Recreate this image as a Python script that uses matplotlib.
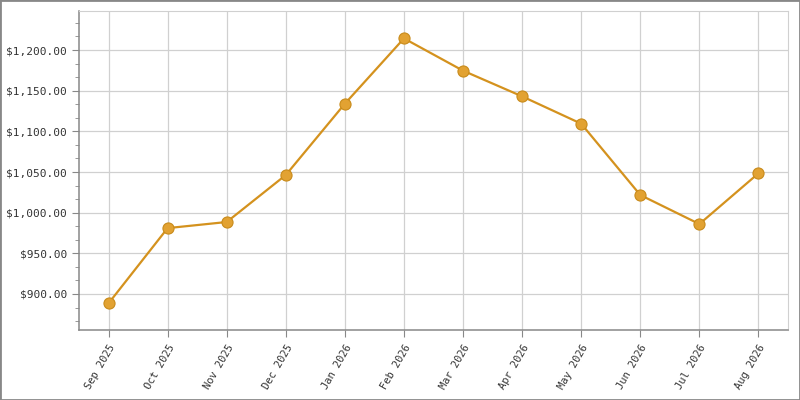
import matplotlib.pyplot as plt
from matplotlib.ticker import FuncFormatter, MultipleLocator
from matplotlib.patches import Rectangle

# Monthly values
months = ['Sep 2025', 'Oct 2025', 'Nov 2025', 'Dec 2025', 'Jan 2026', 'Feb 2026',
          'Mar 2026', 'Apr 2026', 'May 2026', 'Jun 2026', 'Jul 2026', 'Aug 2026']
values = [888.5, 981, 988.5, 1046.3, 1134, 1214.3,
          1174.6, 1143, 1109.4, 1021.7, 986, 1048.4]

plt.rcParams['font.family'] = ['DejaVu Sans Mono']

fig = plt.figure(figsize=(8, 4), dpi=100)
ax = fig.add_axes([79 / 800, 70 / 400, 709 / 800, 319 / 400])

x = list(range(len(months)))
ax.plot(x, values, color='#D4921E', linewidth=1.6, marker='o', markersize=8,
        markerfacecolor='#E2A232', markeredgecolor='#C98B1B', markeredgewidth=0.8, zorder=3)

ax.set_xlim(-0.5, len(months) - 0.5)
ax.set_ylim(855.7, 1248)
ax.set_xticks(x)
ax.set_xticklabels(months, rotation=60, ha='right', rotation_mode='anchor', fontsize=7.5, color='#333333')
ax.yaxis.set_major_locator(MultipleLocator(50))
ax.yaxis.set_minor_locator(MultipleLocator(50 / 3))
ax.yaxis.set_major_formatter(FuncFormatter(lambda v, p: '${:,.2f}'.format(v)))
ax.tick_params(axis='y', labelsize=8, labelcolor='#333333', length=5, color='#888888')
ax.tick_params(axis='y', which='minor', length=3, color='#888888')
ax.tick_params(axis='x', length=5, color='#888888', pad=4)

ax.grid(True, color='#d0d0d0', linewidth=0.9)
ax.set_axisbelow(True)
for side in ['top', 'right']:
    ax.spines[side].set_color('#d0d0d0')
for side in ['left', 'bottom']:
    ax.spines[side].set_color('#888888')
    ax.spines[side].set_linewidth(1.1)

# Outer frame around the image
fig.patches.append(Rectangle((0, 0), 1, 1, transform=fig.transFigure, fill=False,
                             edgecolor='#888888', linewidth=2))

fig.savefig('out.png', dpi=100)
